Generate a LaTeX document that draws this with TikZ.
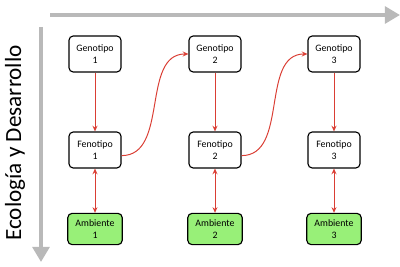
\documentclass[tikz,border=0pt]{standalone}
\usepackage{fontspec}
\setmainfont{Carlito}
\definecolor{relred}{RGB}{218,62,52}
\definecolor{ambgreen}{RGB}{152,240,120}
\usetikzlibrary{arrows.meta,positioning}
\begin{document}
\begin{tikzpicture}[x=0.025cm,y=-0.025cm,
  box/.style={draw,thick,rounded corners=3pt,minimum width=1.3cm,minimum height=0.9cm,font=\fontsize{7}{8.5}\selectfont,align=center},
  amb/.style={box,fill=ambgreen,minimum width=1.36cm,minimum height=0.78cm},
  rel/.style={-{Stealth[length=4pt,width=3.5pt]},relred,line width=0.7pt},
  relboth/.style={{Stealth[length=4pt,width=3.5pt]}-{Stealth[length=4pt,width=3.5pt]},relred,line width=0.7pt},
  eje/.style={-{Triangle[length=0.38cm,width=0.42cm]},gray!55,line width=3pt}]
  \useasboundingbox (0,0) rectangle (400,267);
  % ejes
  \coordinate (h0) at (50,15);
  \coordinate (h1) at (400,15);
  \coordinate (v0) at (41,27);
  \coordinate (v1) at (41,262);
  \draw[eje] (h0) -- (h1);
  \draw[eje] (v0) -- (v1);
  \node[rotate=90,font=\fontsize{16.5}{19}\selectfont] (eco) at (15,143) {Ecología y Desarrollo};
  % nodos
  \node[box] (g1) at (95,54) {Genotipo\\1};
  \node[box] (g2) at (215,54) {Genotipo\\2};
  \node[box] (g3) at (334,54) {Genotipo\\3};
  \node[box] (f1) at (95,150) {Fenotipo\\1};
  \node[box] (f2) at (215,150) {Fenotipo\\2};
  \node[box] (f3) at (334,150) {Fenotipo\\3};
  \node[amb] (a1) at (95,229) {Ambiente\\1};
  \node[amb] (a2) at (215,229) {Ambiente\\2};
  \node[amb] (a3) at (334,229) {Ambiente\\3};
  % flechas
  \draw[rel] (g1) -- (f1);
  \draw[rel] (g2) -- (f2);
  \draw[rel] (g3) -- (f3);
  \draw[relboth] (f1) -- (a1);
  \draw[relboth] (f2) -- (a2);
  \draw[relboth] (f3) -- (a3);
  \draw[rel] ([yshift=-4pt]f1.east) to[out=0,in=180] (g2.west);
  \draw[rel] ([yshift=-4pt]f2.east) to[out=0,in=180] (g3.west);
\end{tikzpicture}
\end{document}
